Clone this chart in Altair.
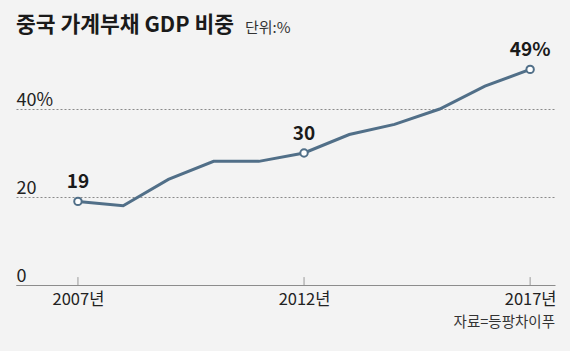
import altair as alt
import pandas as pd

# ---- data ----
years = [2007, 2008, 2009, 2010, 2011, 2012, 2013, 2014, 2015, 2016, 2017]
values = [19, 18, 24, 28.1, 28.1, 30, 34.2, 36.5, 40, 45.2, 49]
label_years = [2007, 2012, 2017]
label_texts = ["19", "30", "49%"]
y_ticks = [0, 20, 40]
x_ticks = [2007, 2012, 2017]
title_text = "중국 가계부채 GDP 비중"
unit_text = "단위:%"
source_text = "자료=등팡차이푸"

df = pd.DataFrame({"year": years, "value": values})
lab = pd.DataFrame({
    "year": label_years,
    "value": [values[years.index(y)] for y in label_years],
    "text": label_texts,
})
ticks_df = pd.DataFrame({"year": x_ticks, "y0": [0] * len(x_ticks), "y1": [1.8] * len(x_ticks)})

FONT = "'Noto Sans CJK KR', sans-serif"
LINE = "#516f88"

xs = alt.Scale(domain=[2005.63, 2017.55], nice=False, zero=False)
ys = alt.Scale(domain=[0, 55], nice=False)

x_axis = alt.Axis(values=x_ticks, labelExpr="datum.value + '년'", tickSize=0,
                  domainColor="#8c8c8c", domainWidth=1, grid=False, labelFontSize=16.5,
                  labelColor="#222222", labelPadding=6, title=None, zindex=1,
                  labelFont=FONT)
y_axis = alt.Axis(values=y_ticks, labelExpr="datum.value == 40 ? '40%' : datum.label",
                  orient="left", labelAlign="left", labelPadding=0, tickSize=0,
                  domain=False, grid=True, gridDash=[2, 2], gridColor="#8a8a8a",
                  gridWidth=1, labelBaseline="alphabetic", labelOffset=-4,
                  labelFontSize=18, labelColor="#222222", title=None, labelFont=FONT)

base = alt.Chart(df)

line = base.mark_line(color=LINE, strokeWidth=3, clip=False).encode(
    x=alt.X("year:Q", scale=xs, axis=x_axis),
    y=alt.Y("value:Q", scale=ys, axis=y_axis),
)

tick_rules = alt.Chart(ticks_df).mark_rule(color="#9a9a9a", strokeWidth=1).encode(
    x=alt.X("year:Q", scale=xs),
    y=alt.Y("y0:Q", scale=ys),
    y2="y1:Q",
)

points = alt.Chart(lab).mark_point(filled=True, fill="white", stroke=LINE,
                                   strokeWidth=2, size=55, opacity=1).encode(
    x=alt.X("year:Q", scale=xs),
    y=alt.Y("value:Q", scale=ys),
)

labels = alt.Chart(lab).mark_text(fontSize=19, fontWeight="bold", dy=-19,
                                  baseline="middle", align="center",
                                  color="#1a1a1a", font=FONT).encode(
    x=alt.X("year:Q", scale=xs),
    y=alt.Y("value:Q", scale=ys),
    text="text:N",
)

title = alt.Chart(pd.DataFrame({"t": [title_text]})).mark_text(
    fontSize=21.5, fontWeight="bold", align="left", baseline="middle",
    color="#1a1a1a", font=FONT).encode(
    x=alt.value(0), y=alt.value(-17), text="t:N")

unit = alt.Chart(pd.DataFrame({"t": [unit_text]})).mark_text(
    fontSize=15, align="left", baseline="middle", color="#333333", font=FONT).encode(
    x=alt.value(229), y=alt.value(-15), text="t:N")

source = alt.Chart(pd.DataFrame({"t": [source_text]})).mark_text(
    fontSize=14.5, align="right", baseline="middle", color="#333333", font=FONT).encode(
    x=alt.value(539), y=alt.value(280), text="t:N")

chart = alt.layer(tick_rules, line, points, labels, title, unit, source).properties(
    width=539, height=242,
    padding={"left": 16, "top": 43, "right": 15, "bottom": 66},
    autosize=alt.AutoSizeParams(type="none"),
    background="#f3f3f3",
).configure_view(stroke=None)

chart.save("out.html", embed_options={"renderer": "svg", "actions": False})
